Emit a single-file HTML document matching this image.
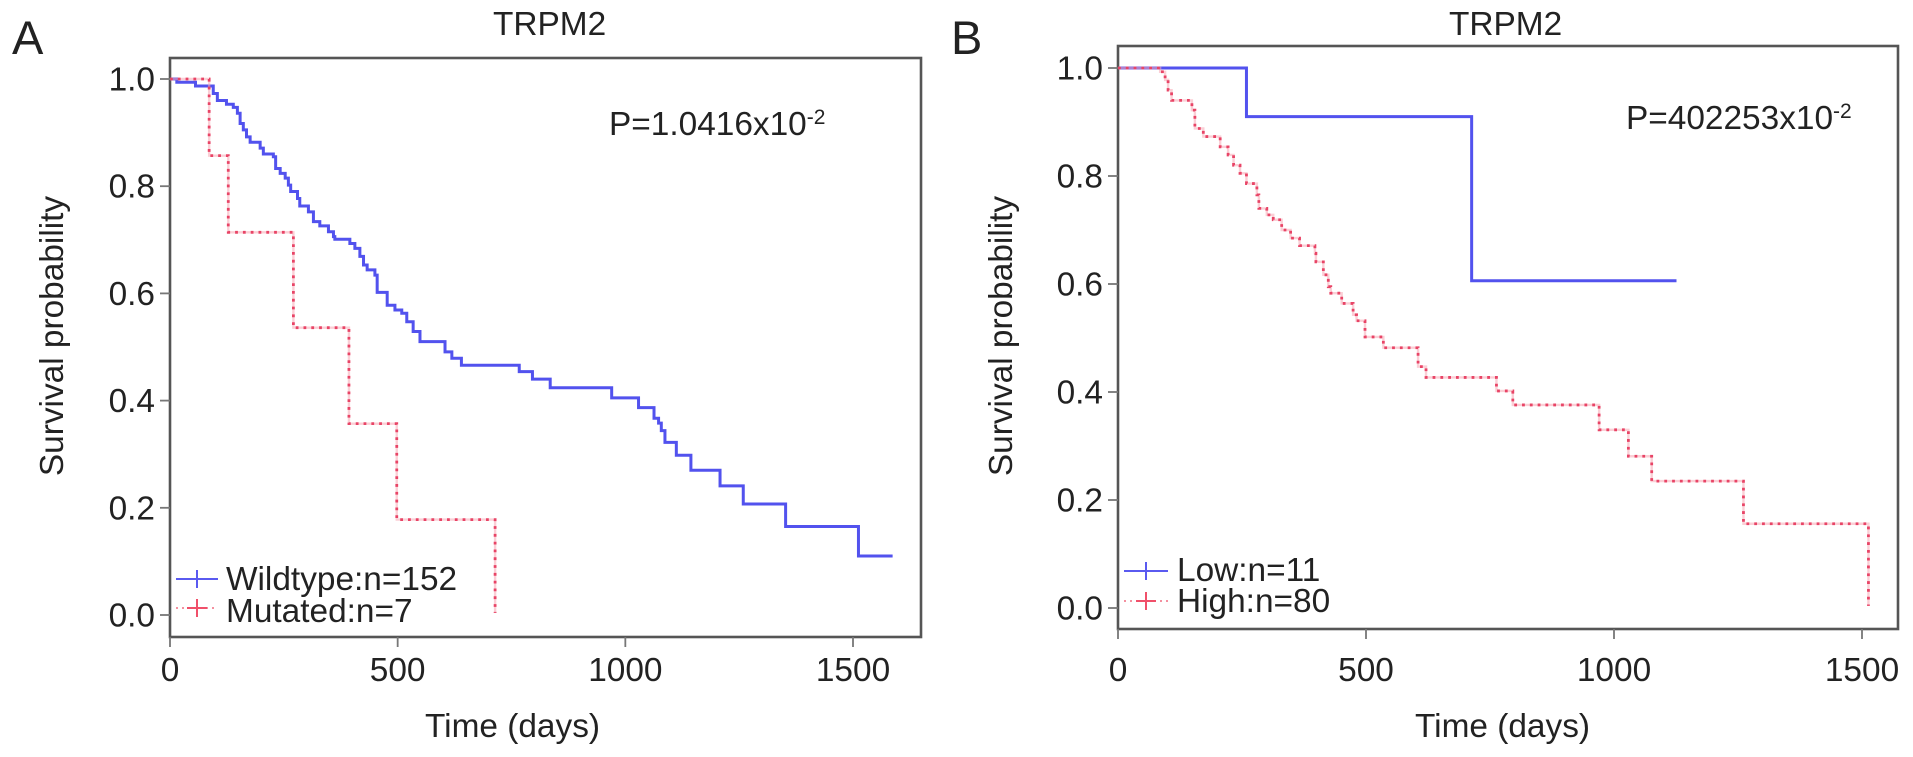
<!DOCTYPE html>
<html lang="en">
<head>
<meta charset="utf-8">
<title>TRPM2 survival curves</title>
<style>
html,body{margin:0;padding:0;background:#fff;}
svg{display:block;}
text{font-family:"Liberation Sans",Arial,sans-serif;fill:#222;font-size:33.4px;}
</style>
</head>
<body>
<svg id="figure" xmlns="http://www.w3.org/2000/svg" width="1913" height="757" viewBox="0 0 1913 757">
  <rect x="0" y="0" width="1913" height="757" fill="#fff"/>

  <text x="12" y="54" style="font-size:47px">A</text>
  <text x="493" y="35">TRPM2</text>
  <text x="609" y="135">P=1.0416x10<tspan dy="-11" style="font-size:21px">-2</tspan></text>
  <text x="425" y="737">Time (days)</text>
  <text transform="translate(63 336) rotate(-90)" text-anchor="middle">Survival probability</text>
  <g id="panel-a"></g>
  <g>
    <line x1="176" x2="218" y1="579" y2="579" stroke="#5a5af0" stroke-width="2"/>
    <line x1="197" x2="197" y1="570" y2="588" stroke="#5a5af0" stroke-width="2"/>
    <text x="226" y="590">Wildtype:n=152</text>
    <line x1="176" x2="218" y1="608" y2="608" stroke="#f4909f" stroke-width="2" stroke-dasharray="2 4"/>
    <line x1="187" x2="207" y1="608" y2="608" stroke="#f0506a" stroke-width="2"/>
    <line x1="197" x2="197" y1="599" y2="617" stroke="#f0506a" stroke-width="2"/>
    <text x="226" y="622">Mutated:n=7</text>
  </g>

  <text x="951" y="54" style="font-size:47px">B</text>
  <text x="1449" y="35">TRPM2</text>
  <text x="1626" y="129">P=402253x10<tspan dy="-11" style="font-size:21px">-2</tspan></text>
  <text x="1415" y="737">Time (days)</text>
  <text transform="translate(1012 336) rotate(-90)" text-anchor="middle">Survival probability</text>
  <g id="panel-b"></g>
  <g>
    <line x1="1124" x2="1168" y1="571" y2="571" stroke="#5a5af0" stroke-width="2"/>
    <line x1="1146" x2="1146" y1="562" y2="580" stroke="#5a5af0" stroke-width="2"/>
    <text x="1177" y="581">Low:n=11</text>
    <line x1="1124" x2="1168" y1="601" y2="601" stroke="#f4909f" stroke-width="2" stroke-dasharray="2 4"/>
    <line x1="1136" x2="1156" y1="601" y2="601" stroke="#f0506a" stroke-width="2"/>
    <line x1="1146" x2="1146" y1="592" y2="610" stroke="#f0506a" stroke-width="2"/>
    <text x="1177" y="612">High:n=80</text>
  </g>
</svg>

<script>
var xTickValues = [0, 500, 1000, 1500];
var yTickValues = [0, 0.2, 0.4, 0.6, 0.8, 1];
var yTickLabels = ["0.0", "0.2", "0.4", "0.6", "0.8", "1.0"];

var wildtypeTimes = [15,56,95,104,124,139,148,154,161,168,176,198,205,227,232,242,253,260,265,280,285,304,315,329,348,359,362,395,406,417,425,433,450,455,477,494,509,520,534,549,604,619,640,767,796,835,970,1029,1063,1073,1079,1087,1112,1144,1208,1259,1352,1512];
var wildtypeSurvival = [0.994,0.987,0.973,0.960,0.953,0.947,0.936,0.917,0.905,0.892,0.882,0.871,0.860,0.855,0.833,0.824,0.815,0.802,0.790,0.777,0.763,0.752,0.734,0.726,0.715,0.706,0.701,0.693,0.684,0.669,0.653,0.644,0.634,0.602,0.578,0.569,0.563,0.547,0.529,0.510,0.491,0.479,0.466,0.454,0.440,0.424,0.405,0.387,0.367,0.358,0.344,0.322,0.298,0.270,0.241,0.207,0.165,0.110];
var wildtypeEndTime = 1587;

var mutatedTimes = [86,128,271,393,498,714];
var mutatedSurvival = [0.857,0.714,0.536,0.357,0.178,0.004];
var mutatedEndTime = 714;

var lowTimes = [259,713];
var lowSurvival = [0.910,0.606];
var lowEndTime = 1126;

var highTimes = [85,95,101,108,149,155,172,206,222,233,246,259,280,284,300,313,330,348,366,397,399,414,424,429,451,474,481,498,535,605,621,763,796,970,1029,1076,1261,1513];
var highSurvival = [0.993,0.978,0.959,0.940,0.922,0.888,0.873,0.854,0.839,0.820,0.805,0.786,0.765,0.740,0.728,0.719,0.700,0.685,0.671,0.657,0.641,0.617,0.595,0.583,0.564,0.543,0.532,0.502,0.482,0.447,0.427,0.402,0.376,0.330,0.281,0.235,0.156,0.004];
var highEndTime = 1513;

var SVG_NS = "http://www.w3.org/2000/svg";

function makeScale(v0, p0, v1, p1) {
  return function (v) { return p0 + (v - v0) * (p1 - p0) / (v1 - v0); };
}

function drawAxes(group, frame, xScale, yScale, yLabelRight, yLabelShift) {
  var box = document.createElementNS(SVG_NS, "rect");
  
  
  box.setAttribute("x", frame.left);
  box.setAttribute("y", frame.top);
  box.setAttribute("width", frame.right - frame.left);
  box.setAttribute("height", frame.bottom - frame.top);
  box.setAttribute("fill", "none");
  box.setAttribute("stroke", "#555");
  box.setAttribute("stroke-width", "2.6");
  group.appendChild(box);

  xTickValues.forEach(function (v) {
    var tick = document.createElementNS(SVG_NS, "line");
    
    
    tick.setAttribute("x1", xScale(v));
    tick.setAttribute("x2", xScale(v));
    tick.setAttribute("y1", frame.bottom);
    tick.setAttribute("y2", frame.bottom + 10);
    tick.setAttribute("stroke", "#777");
    tick.setAttribute("stroke-width", "1.8");
    group.appendChild(tick);

    var label = document.createElementNS(SVG_NS, "text");
    
    
    label.setAttribute("x", xScale(v));
    label.setAttribute("y", 681);
    label.setAttribute("text-anchor", "middle");
    label.textContent = String(v);
    group.appendChild(label);
  });

  yTickValues.forEach(function (v, i) {
    var tick = document.createElementNS(SVG_NS, "line");
    
    
    tick.setAttribute("x1", frame.left - 10);
    tick.setAttribute("x2", frame.left);
    tick.setAttribute("y1", yScale(v));
    tick.setAttribute("y2", yScale(v));
    tick.setAttribute("stroke", "#777");
    tick.setAttribute("stroke-width", "1.8");
    group.appendChild(tick);

    var label = document.createElementNS(SVG_NS, "text");
    
    
    label.setAttribute("x", yLabelRight);
    label.setAttribute("y", yScale(v) + yLabelShift);
    label.setAttribute("text-anchor", "end");
    label.textContent = yTickLabels[i];
    group.appendChild(label);
  });
}

function stepPath(times, survival, endTime, xScale, yScale) {
  var d = "M" + xScale(0) + " " + yScale(1);
  times.forEach(function (t, i) {
    d += "H" + xScale(t) + "V" + yScale(survival[i]);
  });
  d += "H" + xScale(endTime);
  return d;
}

function drawSolidCurve(group, name, times, survival, endTime, xScale, yScale) {
  var path = document.createElementNS(SVG_NS, "path");
  
  
  path.setAttribute("d", stepPath(times, survival, endTime, xScale, yScale));
  path.setAttribute("fill", "none");
  path.setAttribute("stroke", "#5252ee");
  path.setAttribute("stroke-width", "3");
  group.appendChild(path);
}

function drawDottedCurve(group, name, times, survival, endTime, xScale, yScale) {
  var halo = document.createElementNS(SVG_NS, "path");
  
  
  halo.setAttribute("d", stepPath(times, survival, endTime, xScale, yScale));
  halo.setAttribute("fill", "none");
  halo.setAttribute("stroke", "#f7a8b4");
  halo.setAttribute("stroke-width", "2.4");
  halo.setAttribute("stroke-opacity", "0.55");
  group.appendChild(halo);

  var path = document.createElementNS(SVG_NS, "path");
  
  
  path.setAttribute("d", stepPath(times, survival, endTime, xScale, yScale));
  path.setAttribute("fill", "none");
  path.setAttribute("stroke", "#e84466");
  path.setAttribute("stroke-width", "2.8");
  path.setAttribute("stroke-dasharray", "2.8 5");
  group.appendChild(path);
}

var panelA = document.getElementById("panel-a");
var xA = makeScale(0, 170, 1500, 853);
var yA = makeScale(0, 615, 1, 79);
drawAxes(panelA, {left: 170, top: 58, right: 921, bottom: 637}, xA, yA, 155, 11.5);
drawSolidCurve(panelA, "wildtype-survival-curve", wildtypeTimes, wildtypeSurvival, wildtypeEndTime, xA, yA);
drawDottedCurve(panelA, "mutated-survival-curve", mutatedTimes, mutatedSurvival, mutatedEndTime, xA, yA);

var panelB = document.getElementById("panel-b");
var xB = makeScale(0, 1118, 1500, 1862);
var yB = makeScale(0, 608, 1, 68);
drawAxes(panelB, {left: 1118, top: 46, right: 1898, bottom: 629}, xB, yB, 1103, 11.5);
drawSolidCurve(panelB, "low-survival-curve", lowTimes, lowSurvival, lowEndTime, xB, yB);
drawDottedCurve(panelB, "high-survival-curve", highTimes, highSurvival, highEndTime, xB, yB);
</script>
</body>
</html>
